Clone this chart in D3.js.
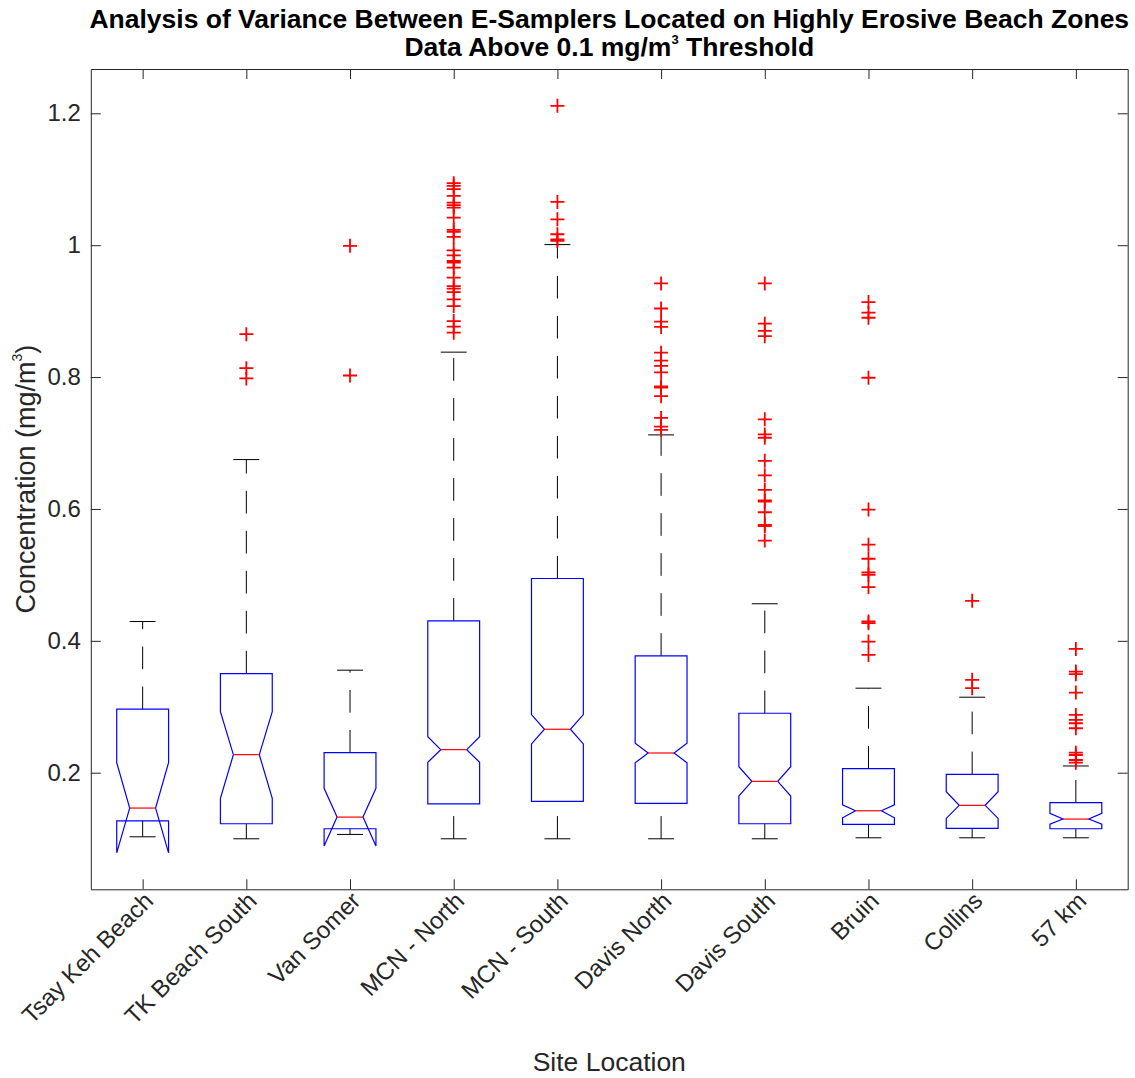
<!DOCTYPE html>
<html>
<head>
<meta charset="utf-8">
<script src="https://cdn.jsdelivr.net/npm/d3@7"></script>
<style>
  html, body { margin: 0; padding: 0; background: #fff; }
  svg { display: block; }
  text { font-family: "Liberation Sans", Arial, Helvetica, sans-serif; }
</style>
</head>
<body>
<svg id="chart" width="1135" height="1078"></svg>
<script>
// ---------------- data ----------------
const sites = ["Tsay Keh Beach", "TK Beach South", "Van Somer", "MCN - North", "MCN - South",
               "Davis North", "Davis South", "Bruin", "Collins", "57 km"];
const q1       = [0.1270, 0.1226, 0.1150, 0.1529, 0.1566, 0.1535, 0.1226, 0.1216, 0.1156, 0.1150];
const medians  = [0.1464, 0.2274, 0.1327, 0.2350, 0.2659, 0.2299, 0.1869, 0.1423, 0.1505, 0.1297];
const q3       = [0.2963, 0.3504, 0.2304, 0.4304, 0.4945, 0.3772, 0.2902, 0.2061, 0.1976, 0.1545];
const notchLo  = [0.0785, 0.1611, 0.0887, 0.2158, 0.2436, 0.2152, 0.1646, 0.1317, 0.1307, 0.1221];
const notchHi  = [0.2152, 0.2927, 0.1763, 0.2547, 0.2881, 0.2446, 0.2091, 0.1514, 0.1712, 0.1383];
const whiskLo  = [0.1028, 0.0998, 0.1064, 0.0998, 0.0998, 0.0998, 0.0998, 0.1013, 0.1013, 0.1013];
const whiskHi  = [0.4293, 0.6749, 0.3555, 0.8378, 1.0009, 0.7123, 0.4562, 0.3282, 0.3145, 0.2102];
const outliers = [
  [],
  [0.8651, 0.8135, 0.7979],
  [0.9990, 0.8024],
  [1.0940, 1.0900, 1.0850, 1.0748, 1.0647, 1.0607, 1.0571, 1.0419, 1.0231, 1.0201, 1.0125,
   0.9922, 0.9846, 0.9760, 0.9735, 0.9659, 0.9507, 0.9380, 0.9340, 0.9289, 0.9178, 0.9077,
   0.8849, 0.8764, 0.8673],
  [1.2114, 1.0656, 1.0393, 1.0166, 1.0089, 1.0064],
  [0.942, 0.904, 0.884, 0.876, 0.837, 0.825, 0.817, 0.807, 0.786, 0.784, 0.771, 0.738, 0.725, 0.720],
  [0.942, 0.881, 0.870, 0.862, 0.736, 0.713, 0.708, 0.673, 0.651, 0.629, 0.613, 0.611, 0.595,
   0.576, 0.574, 0.552],
  [0.9137, 0.8976, 0.8900, 0.7990, 0.5990, 0.5458, 0.5245, 0.5037, 0.5002, 0.4815, 0.4293,
   0.4268, 0.3989, 0.3787],
  [0.4607, 0.3408, 0.3282],
  [0.3878, 0.3534, 0.3494, 0.3215, 0.2876, 0.2800, 0.2750, 0.2674, 0.2304, 0.2269, 0.2193, 0.2152]
];
const yTicks = [0.2, 0.4, 0.6, 0.8, 1.0, 1.2];
const yTickLabels = ["0.2", "0.4", "0.6", "0.8", "1", "1.2"];
const yDomain = [0.0232, 1.2672];
const xDomain = [0.5, 10.5];

// ---------------- layout ----------------
const L = 90.8, R = 1127.7, T = 69, B = 889.3;
const axisColor = "#262626";
const svg = d3.select("#chart");

const x = d3.scaleLinear().domain(xDomain).range([L, R]);
const y = d3.scaleLinear().domain(yDomain).range([B, T]);
const pos = sites.map((s, i) => i + 1);
const hw = x(1.25) - x(1);     // box half-width
const nw = hw / 2;             // notch / cap half-width

// ---------------- axes ----------------
const gAx = svg.append("g").attr("class", "axes");
function styleAxis(g) {
  g.selectAll("path.domain").attr("stroke", axisColor).attr("stroke-width", 1);
  g.selectAll(".tick line").attr("stroke", axisColor).attr("stroke-width", 1);
  g.selectAll(".tick text").attr("fill", axisColor);
}
gAx.append("g").attr("transform", `translate(${L},0)`)
  .call(d3.axisLeft(y).tickValues(yTicks).tickSizeInner(-10).tickSizeOuter(0).tickPadding(10)
        .tickFormat((d, i) => yTickLabels[i]))
  .call(styleAxis)
  .call(g => g.selectAll(".tick text").attr("font-size", 24).attr("font-family", '"Liberation Sans", Arial, sans-serif'));
gAx.append("g").attr("transform", `translate(${R},0)`)
  .call(d3.axisRight(y).tickValues(yTicks).tickSizeInner(-10).tickSizeOuter(0).tickFormat(""))
  .call(styleAxis);
gAx.append("g").attr("transform", `translate(0,${B})`)
  .call(d3.axisBottom(x).tickValues(pos).tickSizeInner(-10).tickSizeOuter(0).tickFormat(""))
  .call(styleAxis);
gAx.append("g").attr("transform", `translate(0,${T})`)
  .call(d3.axisTop(x).tickValues(pos).tickSizeInner(-10).tickSizeOuter(0).tickFormat(""))
  .call(styleAxis);

// rotated x tick labels
svg.append("g").selectAll("text").data(sites).join("text")
  .attr("transform", (d, i) => `translate(${x(i + 1) + 6},${B + 7}) rotate(-45)`)
  .attr("text-anchor", "end")
  .attr("dy", "0.35em")
  .attr("font-size", 24)
  .attr("fill", axisColor)
  .text(d => d);

// ---------------- boxes ----------------
const line = d3.line();
const gBox = svg.append("g").attr("class", "boxes");
sites.forEach((s, i) => {
  const cx = x(i + 1);
  const g = gBox.append("g");
  // whiskers (dashed), drawn from lower value to higher value
  g.append("path")
    .attr("d", line([[cx, y(whiskLo[i])], [cx, y(q1[i])]]))
    .attr("stroke", "#000").attr("stroke-width", 1).attr("fill", "none")
    .attr("stroke-dasharray", "22.7,17.3");
  g.append("path")
    .attr("d", line([[cx, y(q3[i])], [cx, y(whiskHi[i])]]))
    .attr("stroke", "#000").attr("stroke-width", 1).attr("fill", "none")
    .attr("stroke-dasharray", "22.7,17.3");
  // caps
  [whiskLo[i], whiskHi[i]].forEach(v => {
    g.append("path")
      .attr("d", line([[cx - nw, y(v)], [cx + nw, y(v)]]))
      .attr("stroke", "#000").attr("stroke-width", 1).attr("fill", "none");
  });
  // notched box
  const pts = [
    [cx - hw, y(q1[i])], [cx - hw, y(notchLo[i])], [cx - nw, y(medians[i])],
    [cx - hw, y(notchHi[i])], [cx - hw, y(q3[i])], [cx + hw, y(q3[i])],
    [cx + hw, y(notchHi[i])], [cx + nw, y(medians[i])], [cx + hw, y(notchLo[i])],
    [cx + hw, y(q1[i])]
  ];
  g.append("path")
    .attr("d", line(pts) + "Z")
    .attr("stroke", "#0000ff").attr("stroke-width", 1.2).attr("fill", "none")
    .attr("stroke-linejoin", "miter");
  // median
  g.append("path")
    .attr("d", line([[cx - nw, y(medians[i])], [cx + nw, y(medians[i])]]))
    .attr("stroke", "#ff0000").attr("stroke-width", 1.2).attr("fill", "none");
  // outliers
  g.selectAll("path.out").data(outliers[i]).join("path")
    .attr("class", "out")
    .attr("d", v => `M${cx - 7},${y(v)}H${cx + 7}M${cx},${y(v) - 7}V${y(v) + 7}`)
    .attr("stroke", "#ff0000").attr("stroke-width", 1.8).attr("fill", "none");
});

// ---------------- titles ----------------
const midX = (L + R) / 2;
const title = svg.append("text").attr("text-anchor", "middle").attr("font-weight", "bold")
  .attr("font-size", 26.5).attr("fill", "#000");
title.append("tspan").attr("x", midX).attr("y", 28)
  .text("Analysis of Variance Between E-Samplers Located on Highly Erosive Beach Zones");
const t2 = title.append("tspan").attr("x", midX).attr("y", 56);
t2.append("tspan").text("Data Above 0.1 mg/m");
t2.append("tspan").attr("font-size", 13).attr("dy", -12).text("3");
t2.append("tspan").attr("dy", 12).text(" Threshold");

svg.append("text").attr("x", midX).attr("y", 1071).attr("text-anchor", "middle")
  .attr("font-size", 26.5).attr("fill", axisColor).text("Site Location");

const yl = svg.append("text").attr("transform", `translate(35,${(T + B) / 2}) rotate(-90)`)
  .attr("text-anchor", "middle").attr("font-size", 27).attr("fill", axisColor);
yl.append("tspan").text("Concentration (mg/m");
yl.append("tspan").attr("font-size", 14).attr("dy", -13).text("3");
yl.append("tspan").attr("dy", 13).text(")");
</script>
</body>
</html>
